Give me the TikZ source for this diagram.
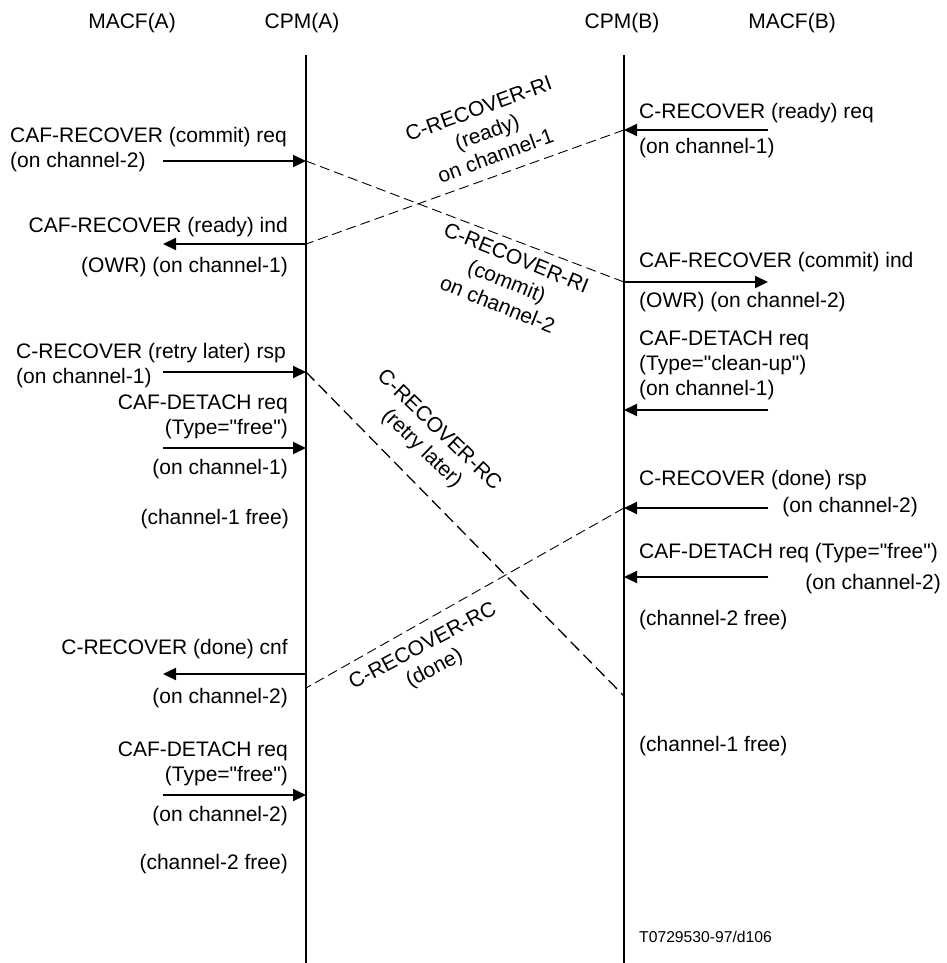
\documentclass[tikz,border=0pt]{standalone}
\usepackage{fontspec}
\setmainfont{Liberation Sans}[Ligatures=TeXOff]
\usetikzlibrary{arrows.meta}

\begin{document}
\begin{tikzpicture}[x=1pt,y=-1pt,
every node/.style={inner sep=0pt,font=\fontsize{21}{25}\selectfont},
life/.style={line width=2pt},
msg/.style={line width=2pt,-{Triangle[length=13pt,width=12pt]}},
pdu/.style={line width=0.9pt,dash pattern=on 10pt off 5pt},
pdux/.style={line width=1.3pt,dash pattern=on 12pt off 6pt}]
\useasboundingbox (0,0) rectangle (946,963);
% entities
\node (MACFA) at (132,23) {MACF(A)};
\node (CPMA) at (302,23) {CPM(A)};
\node (CPMB) at (622,23) {CPM(B)};
\node (MACFB) at (792,23) {MACF(B)};
% lifelines
\coordinate (Atop) at (306,55);
\coordinate (Abot) at (306,963);
\coordinate (Btop) at (624,55);
\coordinate (Bbot) at (624,963);
\draw[life] (Atop)--(Abot);
\draw[life] (Btop)--(Bbot);
% points on the lifelines
\coordinate (A1) at (306,161);
\coordinate (A2) at (306,244);
\coordinate (A3) at (306,372);
\coordinate (A4) at (306,448);
\coordinate (A5) at (306,674);
\coordinate (A6) at (306,688);
\coordinate (A7) at (306,795);
\coordinate (B1) at (624,130);
\coordinate (B2) at (624,282);
\coordinate (B3) at (624,410);
\coordinate (B4) at (624,508);
\coordinate (B5) at (624,577);
\coordinate (B6) at (624,696);
% free ends on the MACF side
\coordinate (MA1) at (163,161);
\coordinate (MA2) at (163,244);
\coordinate (MA3) at (163,372);
\coordinate (MA4) at (163,448);
\coordinate (MA5) at (163,674);
\coordinate (MA7) at (163,795);
\coordinate (MB1) at (768,130);
\coordinate (MB2) at (768,282);
\coordinate (MB3) at (768,410);
\coordinate (MB4) at (768,508);
\coordinate (MB5) at (768,577);
% primitives
\draw[msg] (MA1)--(A1);
\draw[msg] (A2)--(MA2);
\draw[msg] (MA3)--(A3);
\draw[msg] (MA4)--(A4);
\draw[msg] (A5)--(MA5);
\draw[msg] (MA7)--(A7);
\draw[msg] (MB1)--(B1);
\draw[msg] (B2)--(MB2);
\draw[msg] (MB3)--(B3);
\draw[msg] (MB4)--(B4);
\draw[msg] (MB5)--(B5);
% PDUs
\draw[pdu] (B1)--(A2);
\draw[pdu] (A1)--(B2);
\draw[pdux] (A3)--(B6);
\draw[pdu] (B4)--(A6);
\node[rotate=20,align=center] (RIready) at (487,132) {C-RECOVER-RI\\(ready)\\on channel-1};
\node[rotate=-22,align=center] (RIcommit) at (507,281) {C-RECOVER-RI\\(commit)\\on channel-2};
\node[rotate=-44,align=center] (RCretry) at (430,440) {C-RECOVER-RC\\(retry later)};
\node[rotate=28,align=center] (RCdone) at (429,658) {C-RECOVER-RC\\(done)};
% MACF(A) side texts
\node[anchor=west,align=left] (ta1) at (10,150) {CAF-RECOVER (commit) req\\(on channel-2)};
\node[anchor=east] (ta2) at (288,227) {CAF-RECOVER (ready) ind};
\node[anchor=east] (ta3) at (288,267) {(OWR) (on channel-1)};
\node[anchor=west,align=left] (ta4) at (16,366) {C-RECOVER (retry later) rsp\\(on channel-1)};
\node[anchor=east,align=right] (ta5) at (288,417) {CAF-DETACH req\\(Type="free")};
\node[anchor=east] (ta6) at (288,469) {(on channel-1)};
\node[anchor=east] (ta7) at (289,519) {(channel-1 free)};
\node[anchor=east] (ta8) at (288,649) {C-RECOVER (done) cnf};
\node[anchor=east] (ta9) at (288,698) {(on channel-2)};
\node[anchor=east,align=right] (ta10) at (288,764) {CAF-DETACH req\\(Type="free")};
\node[anchor=east] (ta11) at (288,816) {(on channel-2)};
\node[anchor=east] (ta12) at (288,864) {(channel-2 free)};
% MACF(B) side texts
\node[anchor=west] (tb1) at (639,113) {C-RECOVER (ready) req};
\node[anchor=west] (tb2) at (639,148) {(on channel-1)};
\node[anchor=west] (tb3) at (639,262) {CAF-RECOVER (commit) ind};
\node[anchor=west] (tb4) at (639,302) {(OWR) (on channel-2)};
\node[anchor=west,align=left] (tb5) at (639,365) {CAF-DETACH req\\(Type="clean-up")\\(on channel-1)};
\node[anchor=west] (tb6) at (639,480) {C-RECOVER (done) rsp};
\node[anchor=east] (tb7) at (918,507) {(on channel-2)};
\node[anchor=west] (tb8) at (639,553) {CAF-DETACH req (Type="free")};
\node[anchor=east] (tb9) at (941,584) {(on channel-2)};
\node[anchor=west] (tb10) at (639,620) {(channel-2 free)};
\node[anchor=west] (tb11) at (639,746) {(channel-1 free)};
\node[anchor=west,font=\fontsize{15.7}{18}\selectfont] (ref) at (639,937) {T0729530-97/d106};
\end{tikzpicture}
\end{document}
